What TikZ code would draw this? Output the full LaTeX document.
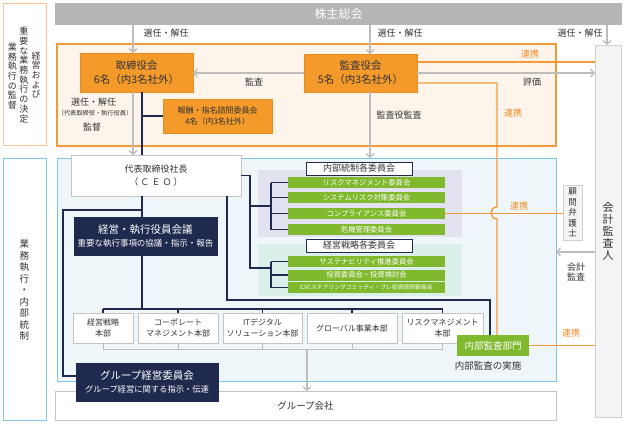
\documentclass[tikz,border=0pt]{standalone}
\usepackage{fontspec}
\setmainfont{Noto Sans CJK JP}
\usetikzlibrary{arrows.meta}
\definecolor{ora}{HTML}{F39A2B}
\definecolor{oradark}{HTML}{E58C1F}
\definecolor{oraline}{HTML}{F39A38}
\definecolor{oratxt}{HTML}{F08A24}
\definecolor{orafill}{HTML}{FDF4EC}
\definecolor{oraleft}{HTML}{F7C596}
\definecolor{gbar}{HTML}{B5B5B5}
\definecolor{navy}{HTML}{1F2A4E}
\definecolor{grn}{HTML}{80B92D}
\definecolor{bluel}{HTML}{7DC6E8}
\definecolor{blueleft}{HTML}{7DC6E8}
\definecolor{bluefill}{HTML}{EEF6F9}
\definecolor{lav}{HTML}{E2E2F0}
\definecolor{tealc}{HTML}{DBEFEB}
\definecolor{txt}{HTML}{333333}
\definecolor{gline}{HTML}{BDBDBD}
\definecolor{gbord}{HTML}{C4C4C4}
\definecolor{kbord}{HTML}{D0D0D0}
\definecolor{kfill}{HTML}{F4F4F4}
\tikzset{
  every node/.style={inner sep=0pt, outer sep=0pt, text=txt},
  fs/.style 2 args={font=\fontsize{#1}{#2}\selectfont},
  obox/.style={draw=oradark, fill=ora, line width=0.6pt, align=center},
  wbox/.style={draw=gbord, fill=white, line width=0.8pt, align=center},
  nbox/.style={draw=navy, fill=navy, text=white, align=center},
  gbox/.style={fill=grn, text=white, align=center},
  hbox/.style={draw=navy, fill=white, line width=0.9pt, align=center},
  lbl/.style={fs={9}{11}, align=center},
  olbl/.style={lbl, text=oratxt},
  garrow/.style={draw=gline, line width=1.4pt, -{Straight Barb[length=3.5pt,width=8pt]}},
  nline/.style={draw=navy, line width=1.2pt},
  oline/.style={draw=oraline, line width=1.4pt},
  gl/.style={draw=gline, line width=1pt},
}
\begin{document}
\begin{tikzpicture}[x=1pt,y=-1pt]
\useasboundingbox (0,0) rectangle (624,424);
\fill[white] (0,0) rectangle (624,424);

% left side labels
\node[draw=oraleft, line width=1pt, fill=white, minimum width=43pt, minimum height=142pt] (lt) at (24.5,74) {};
\node[fs={9}{9.7}, align=center] (lt1) at (36,75) {経\\営\\お\\よ\\び};
\node[fs={9}{9.7}, align=center] (lt2) at (24,75) {重\\要\\な\\業\\務\\執\\行\\の\\決\\定};
\node[fs={9}{9.7}, align=center] (lt3) at (12.5,76) {業\\務\\執\\行\\の\\監\\督};
\node[draw=blueleft, line width=1pt, fill=white, minimum width=43pt, minimum height=262pt] (lb) at (24.5,289) {};
\node[fs={9.5}{11.5}, align=center] (lb1) at (24.5,290) {業\\務\\執\\行\\・\\内\\部\\統\\制};

% shareholders bar
\node[fill=gbar, minimum width=567pt, minimum height=22pt, text=white, fs={12}{14}] (kabu) at (338.5,14) {株主総会};

% regions
\node[draw=oraline, fill=orafill, line width=1.2pt, minimum width=499pt, minimum height=102pt] (oreg) at (306.5,95) {};
\node[draw=bluel, fill=bluefill, line width=1pt, minimum width=499pt, minimum height=223pt] (breg) at (306.5,269.5) {};
\node[wbox, minimum width=501pt, minimum height=29pt, fs={9.5}{11}] (gsha) at (305.5,405.5) {グループ会社};

% accounting auditor
\node[draw=kbord, fill=kfill, line width=0.8pt, minimum width=26pt, minimum height=372pt, fs={11}{12}, align=center] (kaikei) at (608,231) {会\\計\\監\\査\\人};

% boards
\node[obox, minimum width=113pt, minimum height=39pt, fs={10.5}{14}] (tori) at (136.5,72.5) {取締役会\\6名（内3名社外）};
\node[obox, minimum width=113pt, minimum height=38pt, fs={10.5}{14}] (kansa) at (360.5,73) {監査役会\\5名（内3名社外）};
\node[obox, minimum width=109pt, minimum height=34pt, fs={8}{11}] (hoshu) at (217.5,116) {報酬・指名諮問委員会\\4名（内3名社外）};

% CEO and meeting
\node[wbox, minimum width=170pt, minimum height=41pt, fs={9}{12.5}] (ceo) at (156,175.5) {代表取締役社長\\（ Ｃ Ｅ Ｏ ）};
\node[nbox, minimum width=143pt, minimum height=38pt, fs={8.5}{12.5}] (keiei) at (145.5,236) {{\fontsize{10.5}{12.5}\selectfont 経営・執行役員会議}\\重要な執行事項の協議・指示・報告};

% committee panels
\node[fill=lav, minimum width=204pt, minimum height=67pt] (pnl1) at (360,203.5) {};
\node[fill=tealc, minimum width=204pt, minimum height=52pt] (pnl2) at (360,270) {};
\node[hbox, minimum width=106pt, minimum height=13pt, fs={9}{10}] (hd1) at (359,168.5) {内部統制各委員会};
\node[hbox, minimum width=106pt, minimum height=13pt, fs={9}{10}] (hd2) at (359,245.5) {経営戦略各委員会};
\node[gbox, minimum width=157pt, minimum height=11pt, fs={7.3}{8}] (g1) at (366.5,182.5) {リスクマネジメント委員会};
\node[gbox, minimum width=157pt, minimum height=11pt, fs={7.3}{8}] (g2) at (366.5,197.5) {システムリスク対策委員会};
\node[gbox, minimum width=157pt, minimum height=11pt, fs={7.3}{8}] (g3) at (366.5,213.5) {コンプライアンス委員会};
\node[gbox, minimum width=157pt, minimum height=11pt, fs={7.3}{8}] (g4) at (366.5,229.5) {危機管理委員会};
\node[gbox, minimum width=157pt, minimum height=11pt, fs={7.3}{8}] (h1) at (366.5,261.5) {サステナビリティ推進委員会};
\node[gbox, minimum width=157pt, minimum height=11pt, fs={7.3}{8}] (h2) at (366.5,275) {投資委員会・投資検討会};
\node[gbox, minimum width=157pt, minimum height=11pt, fs={5.8}{7}] (h3) at (366.5,287.5) {CVCステアリングコミッティ・プレ投資諮問委員会};

% divisions
\node[wbox, minimum width=60pt, minimum height=30pt, fs={8}{11}] (d1) at (103,328) {経営戦略\\本部};
\node[wbox, minimum width=80pt, minimum height=30pt, fs={8}{11}] (d2) at (178,328) {コーポレート\\マネジメント本部};
\node[wbox, minimum width=79pt, minimum height=30pt, fs={8}{11}] (d3) at (262.5,328) {ITデジタル\\ソリューション本部};
\node[wbox, minimum width=90pt, minimum height=30pt, fs={8}{11}] (d4) at (352,328) {グローバル事業本部};
\node[wbox, minimum width=81pt, minimum height=30pt, fs={8}{11}] (d5) at (442.5,328) {リスクマネジメント\\本部};

% internal audit
\node[gbox, minimum width=72pt, minimum height=21pt, fs={9.5}{11}] (naibu) at (493,345.5) {内部監査部門};
\node[lbl, fs={9.5}{11}] (naibuL) at (488,366) {内部監査の実施};

% group committee
\node[nbox, minimum width=142pt, minimum height=38pt, fs={8.3}{12.5}] (gkei) at (147,382) {{\fontsize{10.5}{12.5}\selectfont グループ経営委員会}\\グループ経営に関する指示・伝達};

% legal advisor
\node[draw=kbord, fill=kfill, line width=0.8pt, minimum width=19pt, minimum height=55pt, fs={8.5}{10.5}, align=center] (komon) at (572.5,212.5) {顧\\問\\弁\\護\\士};

% helper coordinates
\coordinate (xA) at (133,0);
\coordinate (xN) at (142,0);
\coordinate (xK) at (370,0);
\coordinate (xR) at (607,0);
\coordinate (xO) at (497,0);
\coordinate (xL) at (63,0);
\coordinate (xC) at (227,0);
\coordinate (xI) at (490,0);
\coordinate (xB) at (250,0);
\coordinate (xT) at (271,0);
\coordinate (xG) at (307,0);
\coordinate (yM) at (0,73);
\coordinate (yO1) at (0,62);
\coordinate (yO2) at (0,83);
\coordinate (yJ) at (0,210);
\coordinate (yGK) at (0,376);
\coordinate (yD) at (0,309);
\coordinate (yG) at (0,349);
\coordinate (yP) at (0,300);
\coordinate (yC1) at (0,206);
\coordinate (yC2) at (0,268);
\coordinate (yK) at (0,252);
\coordinate (hopA) at (497,207);
\coordinate (hopB) at (497,219);

% gray arrows
\draw[garrow] (kabu.south -| xA) -- (tori.north -| xA);
\draw[garrow] (kabu.south -| xK) -- (kansa.north -| xK);
\draw[garrow] (kabu.south -| xR) -- (kaikei.north -| xR);
\draw[garrow] (kansa.west |- yM) -- (tori.east |- yM);
\draw[garrow] (kansa.east |- yM) -- (kaikei.west |- yM);
\draw[garrow] (kansa.south -| xK) -- (breg.north -| xK);
\draw[garrow] (tori.south -| xA) -- (ceo.north -| xA);
\draw[garrow] (kaikei.west |- yK) -- (breg.east |- yK);

% orange links
\draw[oline] (kansa.east |- yO1) -- (kaikei.west |- yO1);
\draw[oline] (kansa.east |- yO2) -- (xO |- yO2) -- (hopA) .. controls (489,207) and (489,219) .. (hopB) -- (naibu.north -| xO);
\draw[oline] (g3.east) -- (komon.west |- g3.east);
\draw[oline] (naibu.east) -- (kaikei.west |- naibu.east);

% navy lines
\draw[nline] (tori.south -| xN) -- (ceo.north -| xN);
\draw[nline] (hoshu.west -| xN) -- (hoshu.west);
\draw[nline] (ceo.south -| xN) -- (keiei.north -| xN);
\draw[nline] (xN |- yJ) -- (xL |- yJ) -- (xL |- yGK) -- (gkei.west |- yGK);
\draw[nline] (keiei.south -| xN) -- (xN |- yD);
\draw[nline] (d1.north |- yD) -- (d5.north |- yD);
\foreach \d in {d1,d2,d3,d4,d5} { \draw[nline] (\d.north |- yD) -- (\d.north); }
\draw[nline] (ceo.south -| xC) -- (xC |- yP) -- (xI |- yP) -- (naibu.north -| xI);
\draw[nline] (ceo.east) -- (xB |- ceo.east) -- (xB |- yC2) -- (xT |- yC2);
\draw[nline] (xB |- yC1) -- (xT |- yC1);
\draw[nline] (xT |- g1.west) -- (xT |- g4.west);
\draw[nline] (xT |- h1.west) -- (xT |- h3.west);
\foreach \g in {g1,g2,g3,g4,h1,h2,h3} { \draw[nline] (xT |- \g.west) -- (\g.west); }

% gray lines to group companies
\foreach \d in {d1,d2,d3,d4,d5} { \draw[gl] (\d.south) -- (\d.south |- yG); }
\draw[gl] (d1.south |- yG) -- (d5.south |- yG);
\draw[garrow] (xG |- yG) -- (gsha.north -| xG);

% labels
\node[lbl] (s1) at (166,33) {選任・解任};
\node[lbl] (s2) at (400,33) {選任・解任};
\node[lbl] (s3) at (580,33) {選任・解任};
\node[lbl] (s4) at (93.5,102) {選任・解任};
\node[fs={6.2}{7}] (s5) at (95,113) {（代表取締役・執行役員）};
\node[lbl] (s6) at (92,127) {監督};
\node[lbl] (l1) at (254,82) {監査};
\node[lbl] (l2) at (532,82) {評価};
\node[lbl] (l3) at (399,115) {監査役監査};
\node[lbl, fs={9}{10.5}] (l4) at (576,272) {会計\\監査};
\node[olbl] (o1) at (530,54) {連携};
\node[olbl] (o2) at (513,113) {連携};
\node[olbl] (o3) at (519,206) {連携};
\node[olbl] (o4) at (571,333) {連携};
\end{tikzpicture}
\end{document}
